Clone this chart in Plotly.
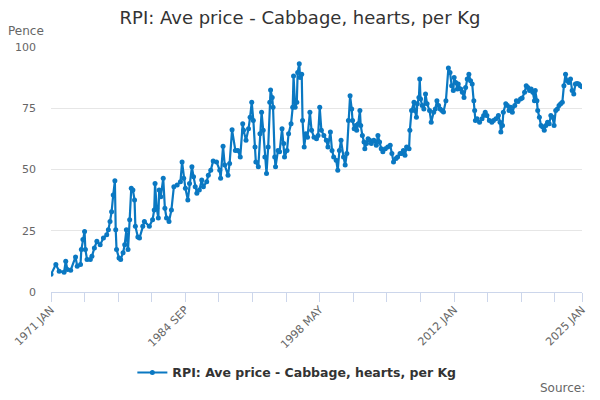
import pandas as pd
import plotly.graph_objects as go

# Values (pence per kg), keyed by months after 1971 JAN
months_from_jan_1971 = [
    0, 6, 10, 16, 18, 20, 24, 30, 32, 36, 37, 39, 41, 42, 44, 48, 50, 53, 56, 60,
    64, 68, 70, 72, 74, 76, 78, 79, 80, 83, 85, 88, 90, 92, 94, 96, 98, 100, 102, 103,
    106, 108, 112, 114, 120, 124, 126, 127, 129, 131, 132, 134, 137, 139, 141, 144, 147, 150, 154, 158,
    160, 162, 164, 167, 169, 172, 174, 176, 178, 181, 184, 186, 190, 192, 195, 198, 202, 206, 207, 210,
    212, 216, 218, 221, 225, 228, 231, 234, 235, 238, 241, 243, 245, 247, 249, 250, 253, 255, 257, 259,
    261, 263, 265, 267, 268, 270, 271, 273, 274, 277, 279, 282, 284, 285, 288, 290, 293, 295, 296, 298,
    300, 301, 303, 304, 306, 307, 309, 311, 313, 316, 318, 321, 324, 326, 328, 330, 333, 336, 338, 341,
    343, 345, 348, 350, 352, 354, 357, 359, 361, 363, 365, 367, 368, 370, 372, 373, 375, 377, 378, 380,
    382, 383, 385, 387, 389, 391, 394, 397, 399, 401, 403, 405, 408, 411, 414, 416, 418, 421, 423, 426,
    428, 430, 432, 434, 437, 438, 440, 443, 444, 446, 447, 449, 450, 451, 453, 455, 457, 459, 462, 464,
    467, 469, 471, 473, 475, 477, 479, 482, 485, 487, 489, 491, 492, 494, 496, 497, 500, 502, 504, 506,
    508, 510, 512, 514, 516, 517, 518, 520, 523, 526, 528, 530, 532, 535, 538, 540, 543, 546, 548, 549,
    551, 552, 555, 557, 559, 561, 563, 566, 568, 570, 573, 575, 578, 580, 582, 584, 586, 588, 590, 591,
    593, 594, 596, 598, 600, 602, 604, 606, 608, 610, 612, 614, 616, 618, 620, 622, 624, 626, 628, 630,
    632, 634, 636, 638, 640, 642, 644, 646, 648,
]
pence = [
    7.2, 11.2, 8.5, 8.1, 12.6, 9.2, 8.9, 14.3, 10.5, 11.2, 17.3, 21.4, 24.7, 17.3, 13.3, 13.3, 14.6, 18.0, 20.7, 19.3,
    22.0, 23.4, 25.4, 28.8, 32.8, 39.6, 45.4, 25.4, 17.3, 13.9, 13.3, 16.0, 19.3, 25.4, 17.3, 29.5, 42.3, 41.6, 37.6, 26.8,
    22.5, 22.0, 26.8, 28.8, 26.8, 29.5, 33.5, 44.3, 34.2, 30.2, 41.6, 38.9, 46.4, 34.2, 30.2, 28.8, 33.5, 43.0, 43.7, 45.0,
    53.1, 46.4, 42.3, 37.6, 44.3, 51.1, 47.0, 43.0, 40.3, 41.6, 45.7, 43.0, 45.0, 47.7, 49.7, 53.5, 53.1, 49.7, 46.4, 59.5,
    51.8, 47.7, 52.4, 66.2, 57.8, 57.8, 55.1, 68.7, 66.0, 61.9, 66.6, 71.3, 77.4, 70.0, 59.2, 53.1, 51.1, 64.6, 73.4, 66.0,
    55.1, 48.4, 59.2, 77.4, 82.4, 79.4, 75.4, 55.1, 51.1, 57.8, 57.2, 66.6, 60.6, 55.1, 57.8, 64.6, 68.7, 75.4, 88.2, 75.4,
    77.4, 89.6, 93.2, 87.6, 88.9, 70.0, 59.2, 64.6, 63.2, 73.4, 66.0, 63.2, 62.6, 63.9, 75.4, 66.0, 63.9, 61.9, 59.2, 65.3,
    57.8, 55.1, 53.8, 49.7, 57.8, 61.9, 55.1, 51.8, 56.5, 70.0, 80.1, 74.7, 70.0, 66.6, 68.0, 66.0, 68.7, 74.1, 68.0, 63.9,
    61.2, 58.5, 60.6, 62.6, 61.9, 60.6, 61.9, 59.9, 63.9, 61.2, 58.5, 57.2, 58.5, 59.2, 59.9, 56.5, 53.1, 54.5, 55.1, 56.5,
    56.5, 57.8, 55.8, 59.2, 58.5, 66.0, 74.1, 77.4, 74.1, 71.3, 76.8, 79.4, 86.9, 78.8, 76.1, 74.7, 80.8, 76.8, 74.1, 69.3,
    73.4, 74.7, 78.1, 76.1, 74.7, 74.1, 73.5, 78.1, 91.4, 89.6, 84.2, 82.2, 87.6, 85.5, 82.9, 84.9, 82.9, 81.5, 79.4, 83.5,
    86.9, 88.9, 86.2, 84.9, 78.1, 74.1, 70.0, 70.7, 69.3, 70.7, 72.0, 73.4, 72.0, 70.0, 69.3, 70.0, 70.7, 72.0, 69.3, 65.3,
    68.0, 73.4, 76.8, 76.1, 74.1, 75.4, 73.4, 76.1, 78.1, 77.8, 78.8, 79.2, 81.5, 84.2, 83.5, 82.2, 82.9, 81.5, 78.1, 82.2,
    78.1, 74.1, 71.3, 68.0, 67.3, 66.0, 68.0, 69.3, 68.7, 72.0, 71.3, 68.0, 74.1, 74.7, 76.1, 76.8, 77.4, 84.2, 88.9, 86.2,
    85.5, 86.9, 82.2, 80.8, 84.9, 85.1, 84.9, 84.2, 83.8,
]
tick_labels = ["1971 JAN", "1984 SEP", "1998 MAY", "2012 JAN", "2025 JAN"]
y_ticks = [0, 25, 50, 75, 100]

series_name = "RPI: Ave price - Cabbage, hearts, per Kg"
blue = "#0a78c2"
grey_text = "#666666"
font_family = "DejaVu Sans, Liberation Sans, sans-serif"

start = pd.Timestamp("1971-01-01")
dates = [start + pd.DateOffset(months=m) for m in months_from_jan_1971]

# ticks every 41 months, labelled every fourth, plus the final month
tick_dates = [start + pd.DateOffset(months=41 * k) for k in range(16)]
tick_text = [""] * 16
for k in range(0, 16, 4):
    tick_text[k] = tick_labels[k // 4]
tick_dates.append(start + pd.DateOffset(months=648))
tick_text.append(tick_labels[-1])

fig = go.Figure()
fig.add_trace(go.Scatter(
    x=dates,
    y=pence,
    mode="lines+markers",
    name=series_name,
    line=dict(color=blue, width=2.2),
    marker=dict(color=blue, size=5),
))

fig.update_layout(
    width=600,
    height=400,
    margin=dict(l=45, r=17, t=47, b=107),
    paper_bgcolor="white",
    plot_bgcolor="white",
    font=dict(family=font_family, color=grey_text, size=11),
    title=dict(
        text=series_name,
        x=0.5,
        xanchor="center",
        y=0.955,
        yanchor="middle",
        font=dict(size=18, color="#333333"),
    ),
    showlegend=True,
    legend=dict(
        orientation="h",
        x=0.463,
        xanchor="center",
        y=-0.33,
        yanchor="middle",
        itemwidth=30,
        font=dict(size=12.5, color="#333333", weight="bold"),
    ),
    annotations=[
        dict(text="Pence", xref="paper", yref="paper", x=-0.085, y=1.065,
             xanchor="left", yanchor="middle", showarrow=False,
             font=dict(size=12, color=grey_text)),
        dict(text="Source:", xref="paper", yref="paper", x=1.01, y=-0.392,
             xanchor="right", yanchor="middle", showarrow=False,
             font=dict(size=12, color=grey_text)),
    ],
)

fig.update_xaxes(
    range=[start, start + pd.DateOffset(months=648)],
    tickmode="array",
    tickvals=tick_dates,
    ticktext=tick_text,
    tickangle=-45,
    ticks="outside",
    ticklen=9,
    tickcolor="#ccd6eb",
    ticklabelstandoff=-3,
    showline=True,
    linecolor="#ccd6eb",
    showgrid=False,
    zeroline=False,
)
fig.update_yaxes(
    range=[0, 100],
    tickvals=y_ticks,
    showgrid=True,
    gridcolor="#e6e6e6",
    zeroline=False,
    showline=False,
    ticks="",
    ticklabelstandoff=14,
)

fig.write_html(
    "out.html",
    config={"displayModeBar": False},
    post_script="document.body.style.margin='0';",
)
